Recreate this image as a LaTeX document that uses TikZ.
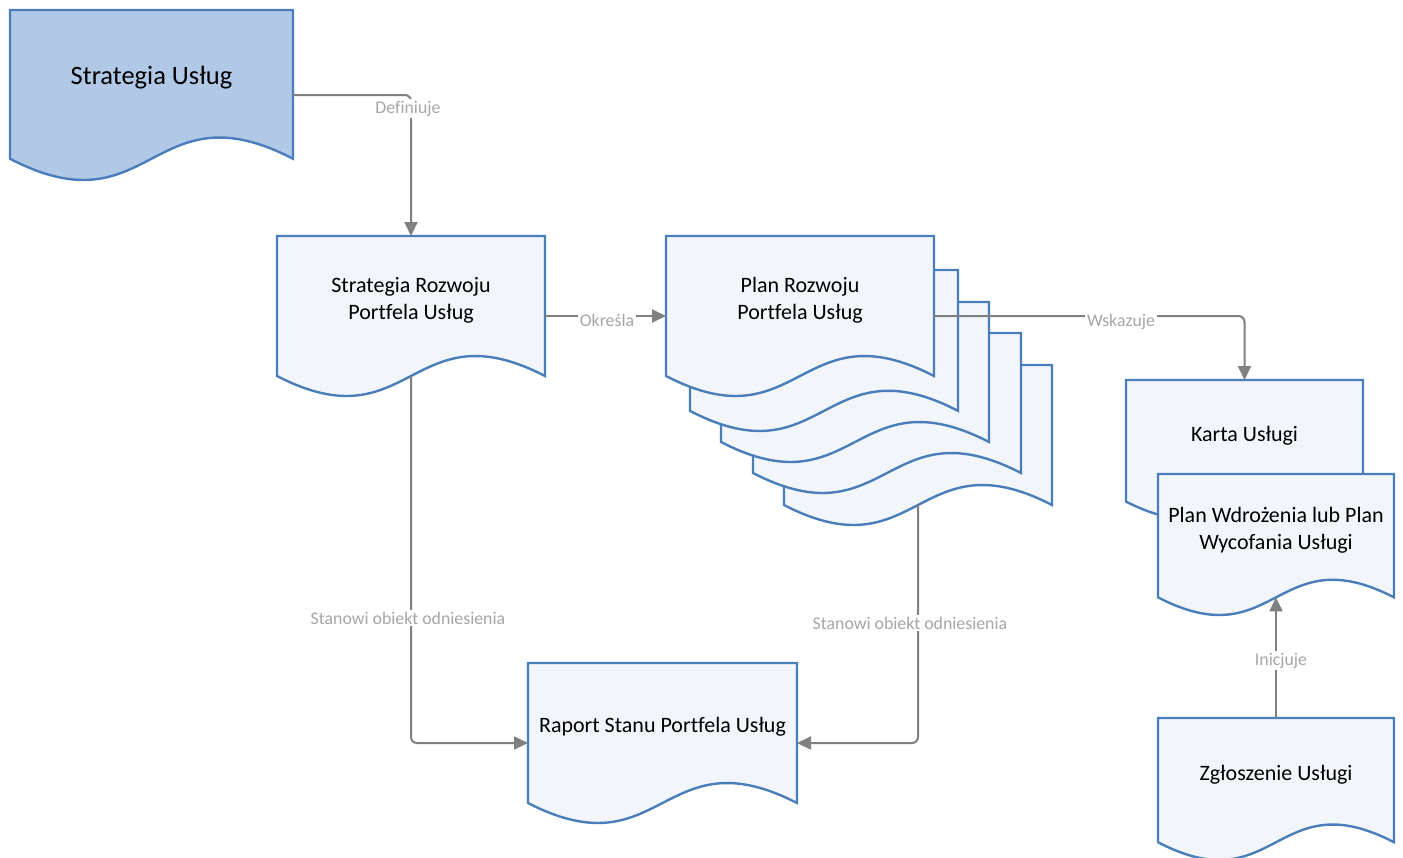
\documentclass[tikz,border=0pt]{standalone}
\usepackage{fontspec}
\setmainfont{Carlito}[Ligatures={NoCommon}]
\usetikzlibrary{arrows.meta}

\definecolor{docline}{HTML}{4A7EBB}
\definecolor{docfill}{HTML}{F2F6FB}
\definecolor{docdark}{HTML}{B1C8E7}
\definecolor{connline}{HTML}{808080}
\definecolor{conntext}{HTML}{A6A6A6}

% Document symbol with a wavy lower edge.
% #1 name, #2 left, #3 top, #4 right, #5 lowest point of the wave,
% #6 shape style, #7 text style, #8 text
\newcommand{\docshape}[8]{%
  \pgfmathsetmacro{\dsD}{0.125*(#5-#3)}%
  \pgfmathsetmacro{\dsS}{#5-\dsD}%
  \pgfmathsetmacro{\dsX}{(#2+#4)/2}%
  \pgfmathsetmacro{\dsA}{\dsS+3.46*\dsD}%
  \pgfmathsetmacro{\dsB}{\dsS-3.46*\dsD}%
  \pgfmathsetmacro{\dsC}{(#3+#5)/2}%
  \pgfmathsetmacro{\dsW}{#4-#2}%
  \pgfmathsetmacro{\dsH}{#5-#3}%
  \pgfmathsetmacro{\dsT}{#3+0.4*(#5-#3)}%
  \draw[docshape,#6] (#2,\dsS) -- (#2,#3) -- (#4,#3) -- (#4,\dsS)
    .. controls (\dsX,\dsB) and (\dsX,\dsA) .. (#2,\dsS) -- cycle;
  \node[docbox, minimum width=\dsW pt, minimum height=\dsH pt] (#1) at (\dsX,\dsC) {};
  \coordinate (#1-w) at (\dsX,\dsS);
  \node[doctext,#7] (#1-t) at (\dsX,\dsT) {#8};
}

\tikzset{
  docshape/.style={draw=docline, line width=2.4pt, fill=docfill, line join=miter},
  docbox/.style={draw=none, inner sep=0pt, outer sep=0pt},
  doctext/.style={align=center, font=\fontsize{22}{27}\selectfont, text=black, inner sep=0pt},
  conn/.style={draw=connline, line width=2pt, rounded corners=6pt,
    -{Triangle[length=14pt,width=13pt]}},
  connlabel/.style={fill=white, text=conntext, inner sep=2pt, anchor=base,
    font=\fontsize{17.8}{20}\selectfont},
}

\begin{document}
\begin{tikzpicture}[x=1pt,y=-1pt]
\useasboundingbox (0,0) rectangle (1403,857);

% documents
\docshape{su}{10}{10}{293}{180}{fill=docdark}{font=\fontsize{26.5}{30}\selectfont}{Strategia Usług}
\docshape{srp}{277}{236}{545}{396}{}{}{Strategia Rozwoju\\Portfela Usług}

% stacked plan documents, back to front
\docshape{prp5}{784}{365}{1052}{525}{}{}{}
\docshape{prp4}{753}{333}{1021}{493}{}{}{}
\docshape{prp3}{721}{302}{989}{462}{}{}{}
\docshape{prp2}{690}{270}{958}{431}{}{}{}
\docshape{prp1}{666}{236}{934}{396}{}{}{Plan Rozwoju\\Portfela Usług}

\docshape{karta}{1126}{380}{1363}{519}{}{}{Karta Usługi}
\docshape{pw}{1158}{474}{1394}{615}{}{}{Plan Wdrożenia lub Plan\\Wycofania Usługi}
\docshape{zg}{1158}{718}{1394}{860}{}{}{Zgłoszenie Usługi}
\docshape{raport}{528}{663}{797}{823}{}{}{Raport Stanu Portfela Usług}

% connectors
\draw[conn] (su.east) -| (srp.north);
\draw[conn] (srp.east) -- (prp1.west);
\draw[conn] (prp1.east) -| (karta.north);
\draw[conn] (srp-w) |- (raport.west);
\draw[conn] (prp5-w) |- (raport.east);
\draw[conn] (zg.north) -- (pw-w);

% connector labels
\node[connlabel] (l-def) at (408,113) {Definiuje};
\node[connlabel] (l-okr) at (607,326) {Określa};
\node[connlabel] (l-wsk) at (1121,326) {Wskazuje};
\node[connlabel] (l-st1) at (408,624) {Stanowi obiekt odniesienia};
\node[connlabel] (l-st2) at (910,629) {Stanowi obiekt odniesienia};
\node[connlabel] (l-ini) at (1281,665) {Inicjuje};
\end{tikzpicture}
\end{document}
